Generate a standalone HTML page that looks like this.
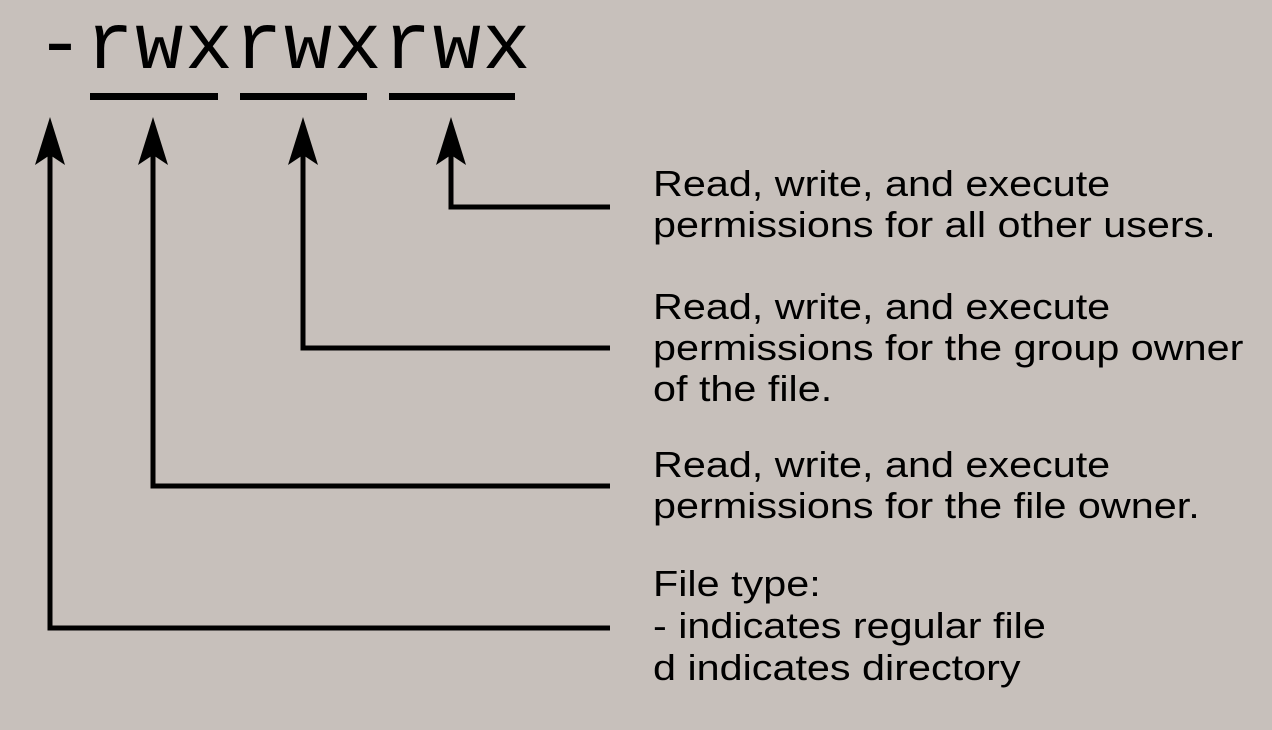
<!DOCTYPE html>
<html><head><style>
html,body{margin:0;padding:0}
body{width:1272px;height:730px;background:#c7c0bb;position:relative;overflow:hidden;font-family:"Liberation Sans",Arial,sans-serif;color:#000}
.t{position:absolute;left:653px;font-size:36px;line-height:41px;white-space:nowrap;transform:scaleX(1.148);transform-origin:0 0}
.m{position:absolute;left:36px;top:-2px;font-family:"Liberation Mono",monospace;font-size:80px;letter-spacing:1.6px;line-height:100px;white-space:pre}
</style></head><body>
<div class="m">-rwxrwxrwx</div>
<svg width="1272" height="730" style="position:absolute;left:0;top:0">
<g fill="#000">
<rect x="90" y="93" width="128" height="7"/>
<rect x="240" y="93" width="127" height="7"/>
<rect x="389" y="93" width="126" height="7"/>
</g>
<g stroke="#000" stroke-width="5" fill="none">
<polyline points="451,150 451,207 610,207"/>
<polyline points="303,150 303,348 610,348"/>
<polyline points="153,150 153,486 610,486"/>
<polyline points="50,150 50,628 610,628"/>
</g>
<g fill="#000">
<path d="M451,117 L466,165 L451,155 L436,165 Z"/>
<path d="M303,117 L318,165 L303,155 L288,165 Z"/>
<path d="M153,117 L168,165 L153,155 L138,165 Z"/>
<path d="M50,117 L65,165 L50,155 L35,165 Z"/>
</g>
</svg>
<div class="t" style="top:163px">Read, write, and execute<br>permissions for all other users.</div>
<div class="t" style="top:286px">Read, write, and execute<br>permissions for the group owner<br>of the file.</div>
<div class="t" style="top:444px">Read, write, and execute<br>permissions for the file owner.</div>
<div class="t" style="top:563px;line-height:42px">File type:<br>- indicates regular file<br>d indicates directory</div>
</body></html>
